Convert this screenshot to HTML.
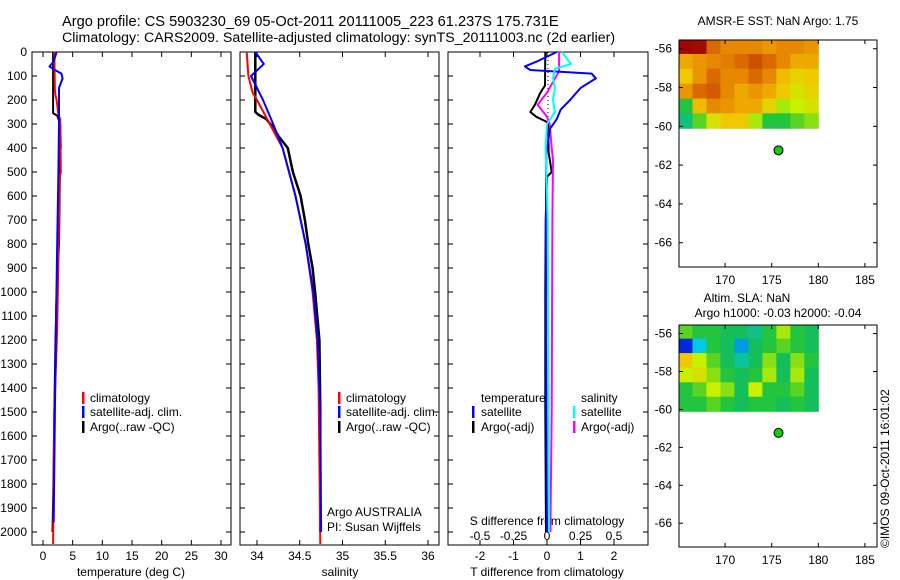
<!DOCTYPE html>
<html><head><meta charset="utf-8"><style>
body{margin:0;background:#fff}
svg{display:block;font-family:"Liberation Sans",sans-serif}
</style></head><body>
<svg id="c" width="900" height="580" viewBox="0 0 900 580">
<text x="62" y="26" font-size="14.6">Argo profile: CS 5903230_69 05-Oct-2011 20111005_223 61.237S 175.731E</text>
<text x="62" y="42" font-size="14.2">Climatology: CARS2009. Satellite-adjusted climatology: synTS_20111003.nc (2d earlier)</text>
<text x="778" y="25" font-size="12" text-anchor="middle">AMSR-E SST: NaN Argo: 1.75</text>
<text x="747" y="302" font-size="12" text-anchor="middle">Altim. SLA: NaN</text>
<text x="778" y="317" font-size="12" text-anchor="middle">Argo h1000: -0.03 h2000: -0.04</text>
<text transform="translate(889,548) rotate(-90)" font-size="12">©IMOS 09-Oct-2011 16:01:02</text>
</svg>
<script>
// ---------- data ----------
const depthTicks=[0,100,200,300,400,500,600,700,800,900,1000,1100,1200,1300,1400,1500,1600,1700,1800,1900,2000];
const tempTicks=[0,5,10,15,20,25,30];
const salTicks=[34,34.5,35,35.5,36];
const salTickLabels=["34","34.5","35","35.5","36"];
const tdTicks=[-2,-1,0,1,2];
const sdTicks=[-0.5,-0.25,0,0.25,0.5];
const sdTickLabels=["-0.5","-0.25","0","0.25","0.5"];
const latTicks=[-56,-58,-60,-62,-64,-66];
const lonTicks=[170,175,180,185];

const tArgoD=[0,140,255,265,300,400,410,500,600,800,1000,1200,1500,1800,2000];
const tArgoV=[1.7,1.7,1.7,2.4,2.9,3.0,2.9,2.85,2.8,2.7,2.3,2.1,1.9,1.75,1.6];
const tClimD=[0,160,180,200,260,280,500,520,1000,1150,1500,2050];
const tClimV=[1.9,2.0,2.1,2.3,2.6,2.9,3.0,2.8,2.5,2.4,1.9,1.7];
const tSatD=[0,40,60,75,90,110,150,300,500,800,1100,1500,1960];
const tSatV=[2.3,1.8,1.1,2.0,3.1,3.3,2.7,2.7,2.6,2.4,2.2,2.0,1.8];

const sArgoD=[0,250,262,280,320,350,400,450,500,600,700,800,900,1000,1200,1500,2000];
const sArgoV=[33.98,33.98,34.02,34.11,34.2,34.25,34.36,34.39,34.42,34.51,34.56,34.6,34.65,34.68,34.73,34.74,34.74];
const sClimD=[0,100,170,200,260,300,400,600,800,1000,1200,1400,2050];
const sClimV=[33.88,33.9,33.95,34.0,34.09,34.15,34.3,34.45,34.57,34.65,34.7,34.72,34.74];
const sSatD=[0,50,70,100,150,200,250,300,400,600,800,1000,1200,1500,2000];
const sSatV=[33.98,34.08,34.02,33.93,34.0,34.07,34.13,34.19,34.3,34.45,34.57,34.66,34.71,34.74,34.75];

const dTSatD=[0,40,60,75,90,110,150,200,240,280,320,420,600,1000,1500,2000];
const dTSatV=[0.29,-0.31,-0.66,-0.5,1.33,1.46,1.0,0.69,0.41,0.29,0.09,-0.02,-0.03,-0.03,-0.02,0.0];
const dTArgoD=[0,140,170,220,250,270,290,300,420,500,520,700,1000,1500,2000];
const dTArgoV=[-0.05,-0.06,-0.2,-0.36,-0.5,-0.32,-0.02,0.03,0.05,0.14,0.0,-0.04,-0.05,-0.05,-0.03];
const dSSatD=[0,50,70,110,150,200,250,300,400,700,1200,2000];
const dSSatV=[0.11,0.18,0.06,0.045,0.06,0.045,0.06,0.0,-0.01,0.005,0.01,0.015];
const dSArgoD=[0,80,110,170,220,270,300,400,450,700,1500,2000];
const dSArgoV=[0.09,0.09,0.06,0.0,-0.07,0.0,0.02,0.035,0.045,0.04,0.035,0.025];

const sstLon=[165,166.5,168,169.5,171,172.5,174,175.5,177,178.5];
const sstLat=[-55.5,-56.27,-57.03,-57.8,-58.57,-59.33];
const sstVals=[
[0.98,0.97,0.85,0.8,0.8,0.8,0.78,0.8,0.8,0.78],
[0.75,0.78,0.8,0.82,0.85,0.88,0.85,0.8,0.75,0.75],
[0.7,0.78,0.85,0.8,0.8,0.85,0.8,0.72,0.68,0.7],
[0.78,0.85,0.87,0.8,0.75,0.78,0.75,0.7,0.65,0.68],
[0.5,0.72,0.8,0.78,0.75,0.75,0.68,0.6,0.62,0.65],
[0.42,0.55,0.65,0.7,0.7,0.6,0.5,0.5,0.55,0.58]];
const slaVals=[
[0.55,0.5,0.5,0.45,0.45,0.4,0.5,0.6,0.5,0.45],
[0.12,0.3,0.5,0.45,0.25,0.45,0.5,0.55,0.5,0.45],
[0.7,0.62,0.55,0.45,0.38,0.45,0.58,0.45,0.58,0.5],
[0.62,0.65,0.58,0.5,0.45,0.5,0.6,0.45,0.6,0.45],
[0.5,0.55,0.62,0.58,0.45,0.62,0.5,0.5,0.55,0.45],
[0.5,0.5,0.55,0.5,0.45,0.5,0.5,0.45,0.5,0.45]];
const argoLon=175.731, argoLat=-61.237;

// ---------- helpers ----------
const svg=document.getElementById('c');
const NS='http://www.w3.org/2000/svg';
function mk(tag,attrs,parent){const e=document.createElementNS(NS,tag);for(const k in attrs)e.setAttribute(k,attrs[k]);(parent||svg).appendChild(e);return e;}
function txt(x,y,s,anchor,size){const e=mk('text',{x:x,y:y,'font-size':size||12,'text-anchor':anchor||'start'});e.textContent=s;return e;}
const Y0=52, YPX=0.24, YB=545;
const yD=d=>Y0+d*YPX;
function lin(d0,d1,p0,p1){return v=>p0+(v-d0)*(p1-p0)/(d1-d0);}
const xT=lin(0,30,43,221);
const xS=lin(34,36,257,428);
const xTD=lin(0,1,547,580.5);
const xSD=lin(0,0.25,547,580.5);

function panel(x0,x1,name){
  const r=mk('rect',{x:x0,y:Y0,width:x1-x0,height:YB-Y0,fill:'none',stroke:'#000','stroke-width':1});
  
  
  depthTicks.forEach(d=>{mk('line',{x1:x0,x2:x0+5,y1:yD(d),y2:yD(d),stroke:'#000'});mk('line',{x1:x1-5,x2:x1,y1:yD(d),y2:yD(d),stroke:'#000'});});
}
function line(ds,vs,xf,color,name,w){
  const pts=ds.map((d,i)=>xf(vs[i]).toFixed(1)+','+yD(d).toFixed(1)).join(' ');
  const p=mk('polyline',{points:pts,fill:'none',stroke:color,'stroke-width':w||2,'stroke-linejoin':'round'});
  
  
}
function xticks(ticks,labels,xf,ty){
  ticks.forEach((t,i)=>{const x=xf(t);mk('line',{x1:x,x2:x,y1:Y0,y2:Y0+5,stroke:'#000'});mk('line',{x1:x,x2:x,y1:YB,y2:YB-5,stroke:'#000'});
  const e=txt(x,ty,labels[i],'middle');});
}
function legendMark(x,y,color){mk('rect',{x:x,y:y-10,width:2.5,height:12,fill:color});}

panel(32,231,'temperature-panel');
panel(240,439,'salinity-panel');
panel(448,648,'difference-panel');
depthTicks.forEach(d=>{const e=txt(27,yD(d)+4,String(d),'end');});
xticks(tempTicks,tempTicks.map(String),xT,560);
xticks(salTicks,salTickLabels,xS,560);
xticks(tdTicks,tdTicks.map(String),xTD,560);
sdTicks.forEach((t,i)=>{const e=txt(xSD(t),540,sdTickLabels[i],'middle');});

let e;
e=txt(131,576,'temperature (deg C)','middle');
e=txt(340,576,'salinity','middle');
e=txt(547,576,'T difference from climatology','middle');
e=txt(547,525,'S difference from climatology','middle');

mk('line',{x1:548,x2:548,y1:Y0,y2:130,stroke:'#000','stroke-dasharray':'1,3'});

line(tArgoD,tArgoV,xT,'#000','temp-argo-line');
line(tClimD,tClimV,xT,'#f00','temp-climatology-line');
line(tSatD,tSatV,xT,'#00f','temp-satellite-line');
line(sArgoD,sArgoV,xS,'#000','sal-argo-line',2.5);
line(sClimD,sClimV,xS,'#f00','sal-climatology-line');
line(sSatD,sSatV,xS,'#00f','sal-satellite-line');
line(dTArgoD,dTArgoV,xTD,'#000','tdiff-argo-line');
line(dSArgoD,dSArgoV,xSD,'#f0f','sdiff-argo-line');
line(dTSatD,dTSatV,xTD,'#00f','tdiff-satellite-line');
line(dSSatD,dSSatV,xSD,'#0ff','sdiff-satellite-line');

[[82,90],[338,346]].forEach(([mx,tx])=>{
  legendMark(mx,402,'#f00');legendMark(mx,416,'#00f');legendMark(mx,431,'#000');
  e=txt(tx,402,'climatology');
  e=txt(tx,416,'satellite-adj. clim.');
  e=txt(tx,431,'Argo(..raw -QC)');
});
e=txt(481,402,'temperature');
e=txt(481,416,'satellite');
e=txt(481,431,'Argo(-adj)');
e=txt(581,402,'salinity');
e=txt(581,416,'satellite');
e=txt(581,431,'Argo(-adj)');
legendMark(472,416,'#00f');legendMark(472,431,'#000');legendMark(573,416,'#0ff');legendMark(573,431,'#f0f');
e=txt(327,516,'Argo AUSTRALIA');
e=txt(327,531,'PI: Susan Wijffels');

function jet(v){
  const stops=[[0,[0,0,120]],[0.12,[0,40,220]],[0.3,[0,200,230]],[0.45,[20,190,90]],[0.52,[40,200,50]],[0.62,[200,240,0]],[0.7,[240,200,0]],[0.78,[235,150,0]],[0.86,[215,100,0]],[0.95,[170,20,0]],[1,[150,0,0]]];
  for(let i=1;i<stops.length;i++){if(v<=stops[i][0]){const [a,ca]=stops[i-1],[b,cb]=stops[i];const t=(v-a)/(b-a);return 'rgb('+ca.map((c,j)=>Math.round(c+(cb[j]-c)*t)).join(',')+')';}}
  return 'rgb(150,0,0)';
}
function map(top,bottom,vals,name){
  const x0=679,x1=877;
  const xL=lin(165.05,186.3,x0,x1);
  const yL=lin(-56,-66,top+(bottom-top)*0.0385,top+(bottom-top)*0.893);
  const g=mk('g',{});
  
  
  vals.forEach((row,r)=>row.forEach((v,c)=>{
    const la0=sstLat[r], la1=r+1<sstLat.length?sstLat[r+1]:-60.1;
    const lo0=sstLon[c], lo1=c+1<sstLon.length?sstLon[c+1]:180;
    const cell=mk('rect',{x:xL(lo0),y:Math.max(top,yL(la0)),width:xL(lo1)-xL(lo0)+0.5,height:yL(la1)-Math.max(top,yL(la0))+0.5,fill:jet(v)},g);
    
    
  }));
  mk('rect',{x:x0,y:top,width:x1-x0,height:bottom-top,fill:'none',stroke:'#000'});
  latTicks.forEach(l=>{const y=yL(l);mk('line',{x1:x0,x2:x0+4,y1:y,y2:y,stroke:'#000'});mk('line',{x1:x1-4,x2:x1,y1:y,y2:y,stroke:'#000'});
    const t=txt(672,y+4,String(l),'end');});
  lonTicks.forEach(l=>{const x=xL(l);mk('line',{x1:x,x2:x,y1:top,y2:top+4,stroke:'#000'});mk('line',{x1:x,x2:x,y1:bottom-4,y2:bottom,stroke:'#000'});
    const t=txt(x,bottom+17,String(l),'middle');});
  const dot=mk('circle',{cx:xL(argoLon),cy:yL(argoLat),r:4.5,fill:'#1c1',stroke:'#000','stroke-width':1});
  
  
}
map(40,267,sstVals,'sst-map');
map(325,547,slaVals,'sla-map');
</script>
</body></html>
